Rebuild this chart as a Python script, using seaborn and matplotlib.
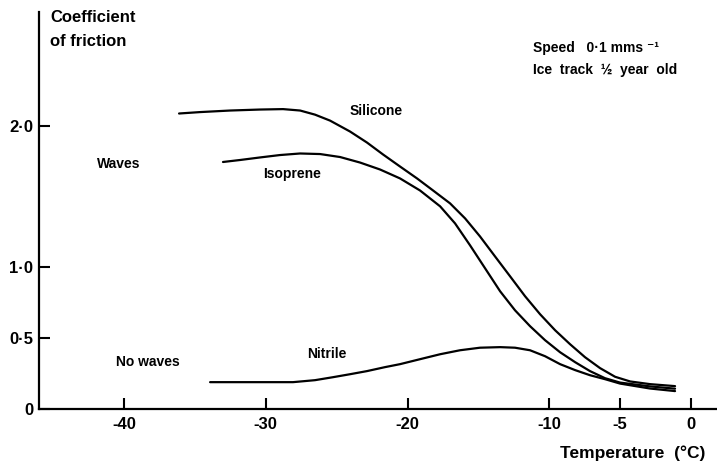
"""
Coefficient of friction against temperature
"""

# Libraries
import pandas as pd
import seaborn as sns
import matplotlib.pyplot as plt

# Seaborn
sns.set_theme(style="ticks")
plt.rcParams['font.family'] = ['Liberation Sans', 'DejaVu Sans']

# ---------------------------------
# Data
# ---------------------------------
silicone_t = [-36.12, -34.64, -32.52, -30.41, -28.78, -27.58, -26.53, -25.47,
              -24.06, -22.86, -21.73, -20.53, -19.33, -18.20, -17.00, -15.94,
              -14.89, -13.83, -12.77, -11.71, -10.65, -9.59, -8.54, -7.48,
              -6.42, -5.36, -4.30, -2.89, -1.13]
silicone_mu = [2.085, 2.095, 2.106, 2.113, 2.116, 2.106, 2.077, 2.035,
               1.958, 1.880, 1.796, 1.711, 1.627, 1.542, 1.451, 1.345,
               1.218, 1.077, 0.937, 0.796, 0.669, 0.556, 0.458, 0.366,
               0.289, 0.228, 0.195, 0.176, 0.162]

isoprene_t = [-33.02, -31.82, -30.41, -29.00, -27.58, -26.17, -24.76, -23.35,
              -21.94, -20.53, -19.12, -17.70, -16.65, -15.59, -14.53, -13.47,
              -12.42, -11.36, -10.30, -9.24, -8.18, -7.13, -6.07, -5.01,
              -2.89, -1.13]
isoprene_mu = [1.743, 1.757, 1.775, 1.792, 1.803, 1.799, 1.778, 1.739,
               1.690, 1.627, 1.542, 1.430, 1.310, 1.155, 0.993, 0.831,
               0.697, 0.585, 0.486, 0.401, 0.331, 0.268, 0.218, 0.187,
               0.160, 0.144]

nitrile_t = [-33.93, -31.11, -28.08, -26.53, -25.26, -24.06, -22.86, -21.59,
             -20.53, -19.12, -17.70, -16.30, -14.89, -13.47, -12.42, -11.36,
             -10.30, -9.24, -8.18, -7.13, -6.07, -5.01, -2.89, -1.13]
nitrile_mu = [0.190, 0.190, 0.190, 0.204, 0.225, 0.246, 0.268, 0.296,
              0.317, 0.352, 0.387, 0.415, 0.433, 0.437, 0.433, 0.415,
              0.373, 0.317, 0.275, 0.239, 0.211, 0.180, 0.145, 0.127]

x_ticks = [-40, -30, -20, -10, -5, 0]
x_tick_labels = ['-40', '-30', '-20', '-10', '-5', '0']
y_ticks = [0, 0.5, 1.0, 2.0]
y_tick_labels = ['0', '0·5', '1·0', '2·0']

# Long table for seaborn
data = pd.concat([
    pd.DataFrame({'temp': silicone_t, 'mu': silicone_mu, 'material': 'Silicone'}),
    pd.DataFrame({'temp': isoprene_t, 'mu': isoprene_mu, 'material': 'Isoprene'}),
    pd.DataFrame({'temp': nitrile_t, 'mu': nitrile_mu, 'material': 'Nitrile'}),
], ignore_index=True)

# ---------------------------------
# Plot
# ---------------------------------
fig = plt.figure(figsize=(7.17, 4.67), dpi=100)
ax = fig.add_axes([0.0544, 0.124, 0.9456, 0.850])

sns.lineplot(data=data, x='temp', y='mu', hue='material', ax=ax,
             palette={'Silicone': 'black', 'Isoprene': 'black',
                      'Nitrile': 'black'},
             sort=False, estimator=None, legend=False, linewidth=1.6)

# Axes
ax.set_xlim(-46.0, 1.83)
ax.set_ylim(0, 2.8)
ax.set_xticks(x_ticks)
ax.set_xticklabels(x_tick_labels, fontsize=12, fontweight='bold')
ax.set_yticks(y_ticks)
ax.set_yticklabels(y_tick_labels, fontsize=12, fontweight='bold')
ax.tick_params(axis='both', direction='in', length=8, width=1.5,
               color='black', labelcolor='black')
ax.tick_params(axis='x', pad=6)
ax.tick_params(axis='y', pad=4)
ax.set_xlabel('')
ax.set_ylabel('')
sns.despine(ax=ax)
for side in ['left', 'bottom']:
    ax.spines[side].set_linewidth(1.6)
    ax.spines[side].set_color('black')

# Labels
txt = dict(color='black', fontweight='bold', clip_on=False)
ax.text(-45.2, 2.76, 'Coefficient', fontsize=12, va='center', **txt)
ax.text(-45.2, 2.59, 'of friction', fontsize=12, va='center', **txt)
ax.text(-4.1, -0.31, 'Temperature  (°C)', fontsize=12.5, ha='center',
        va='center', **txt)

ax.text(-24.1, 2.105, 'Silicone', fontsize=10, va='center', **txt)
ax.text(-30.2, 1.66, 'Isoprene', fontsize=10, va='center', **txt)
ax.text(-27.1, 0.387, 'Nitrile', fontsize=10, va='center', **txt)
ax.text(-41.9, 1.73, 'Waves', fontsize=10, va='center', **txt)
ax.text(-40.6, 0.33, 'No waves', fontsize=10, va='center', **txt)
ax.text(-11.15, 2.55, 'Speed   0·1 mms ⁻¹', fontsize=10, va='center', **txt)
ax.text(-11.15, 2.39, 'Ice  track  ½  year  old', fontsize=10, va='center', **txt)

fig.savefig('out.png', dpi=100)
